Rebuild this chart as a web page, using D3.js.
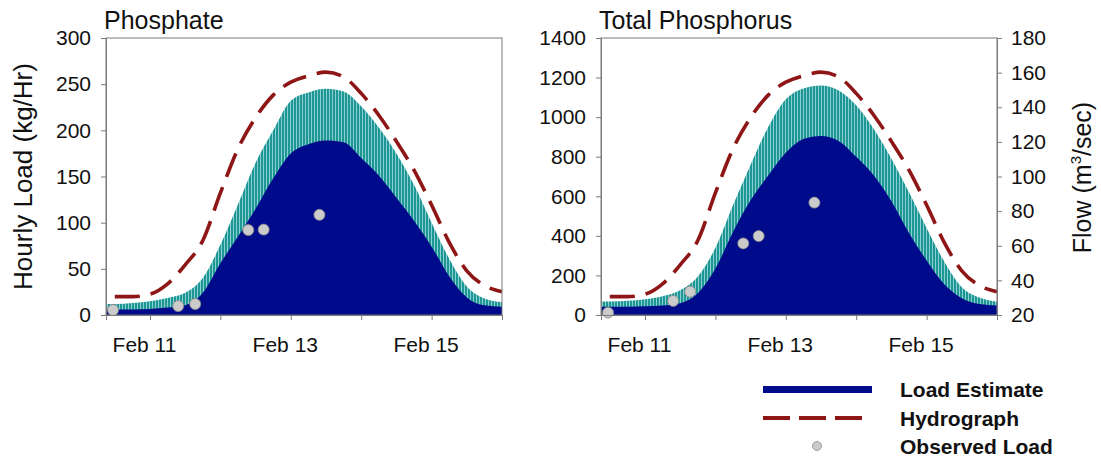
<!DOCTYPE html>
<html>
<head>
<meta charset="utf-8">
<script src="https://cdn.jsdelivr.net/npm/d3@7"></script>
<style>
  body { margin: 0; background: #fff; }
  svg { display: block; font-family: "Liberation Sans", Arial, sans-serif; }
</style>
</head>
<body>
<svg id="chart" width="1101" height="457"></svg>
<script>
// Sample times (every 6 hours across the storm event)
const times = [
  "Feb 10 09:00", "Feb 10 12:00", "Feb 10 18:00",
  "Feb 11 00:00", "Feb 11 06:00", "Feb 11 12:00", "Feb 11 18:00",
  "Feb 12 00:00", "Feb 12 06:00", "Feb 12 12:00", "Feb 12 18:00",
  "Feb 13 00:00", "Feb 13 06:00", "Feb 13 12:00", "Feb 13 18:00",
  "Feb 14 00:00", "Feb 14 06:00", "Feb 14 12:00", "Feb 14 18:00",
  "Feb 15 00:00", "Feb 15 06:00", "Feb 15 12:00", "Feb 15 18:00",
  "Feb 16 00:00"
];

// Phosphate hourly load (kg/Hr): estimate and its upper band
const phosphateEstimate = [6, 6, 6, 6.5, 8, 10.5, 24, 56, 85, 115, 148, 175, 185, 189, 187, 170, 151, 127, 102, 74, 42, 19, 10.5, 9];
const phosphateUpper    = [12, 12, 13, 15, 18.5, 24, 40, 76, 120, 165, 200, 232, 241, 245, 242, 226, 203, 175, 141, 100, 61, 31, 18, 14];

// Total phosphorus hourly load (kg/Hr): estimate and its upper band
const tpEstimate = [42, 42, 42, 44, 48, 60, 110, 235, 420, 580, 705, 820, 890, 905, 880, 800, 705, 575, 415, 275, 155, 85, 55, 48];
const tpUpper    = [67, 68, 72, 80, 95, 125, 194, 340, 555, 760, 950, 1090, 1145, 1160, 1135, 1060, 940, 790, 620, 440, 270, 140, 88, 67];

// Hydrograph flow (m3/sec)
const flow = [null, 30.6, 30.6, 32, 38, 49, 63, 90.5, 116, 134, 147, 154.5, 158.2, 160.3, 157.5, 148, 135.4, 120.3, 103.7, 83.5, 62, 45.5, 37, 33.5];

// Observed loads from grab samples
const obsTimes = ["Feb 10 11:24", "Feb 11 09:36", "Feb 11 15:24", "Feb 12 09:30", "Feb 12 14:45", "Feb 13 09:45"];
const phosphateObserved = [5.4, 9.7, 11.9, 92, 92.5, 108.5];
const tpObserved = [12, 71, 118, 362, 399, 568];

// Axis ticks and labels
const phosphateTicks = [0, 50, 100, 150, 200, 250, 300];
const tpTicks = [0, 200, 400, 600, 800, 1000, 1200, 1400];
const flowTicks = [20, 40, 60, 80, 100, 120, 140, 160, 180];
const dayTicks = ["Feb 11 00:00", "Feb 12 00:00", "Feb 13 00:00", "Feb 14 00:00", "Feb 15 00:00", "Feb 16 00:00"];
const dayLabels = ["Feb 11", "Feb 13", "Feb 15"];
const timeDomain = ["Feb 10 09:00", "Feb 16 00:00"];

const parse = d3.timeParse("%b %d %H:%M");
const fmtDay = d3.timeFormat("%b %-d");

const NAVY = "#000b8c";
const TEAL = "#1f9696";
const STRIPE = "#a6dede";
const RED = "#8e1616";
const AXIS = "#7a7a7a";
const INK = "#111";

const svg = d3.select("#chart");
const defs = svg.append("defs");

// vertical hourly bars for the upper band
const pat = defs.append("pattern")
  .attr("id", "bars").attr("patternUnits", "userSpaceOnUse")
  .attr("width", 3).attr("height", 10);
pat.append("rect").attr("width", 3).attr("height", 10).attr("fill", TEAL);
pat.append("rect").attr("x", 2.2).attr("width", 0.8).attr("height", 10).attr("fill", STRIPE);

function styleAxis(sel) {
  sel.select(".domain").attr("stroke", AXIS);
  sel.selectAll(".tick line").attr("stroke", AXIS);
  sel.selectAll("text").attr("font-size", 21).attr("fill", INK).attr("font-family", null);
}

function panel(opts) {
  const { id, left, right, top, bottom, est, upper, obs, loadTicks, loadMax, title, showFlowAxis, showLoadTitle } = opts;
  const x = d3.scaleTime().domain(timeDomain.map(parse)).range([left, right]);
  const y = d3.scaleLinear().domain([0, loadMax]).range([bottom, top]);
  const yFlow = d3.scaleLinear().domain([20, 180]).range([bottom, top]);

  const g = svg.append("g");
  defs.append("clipPath").attr("id", "clip" + id)
    .append("rect").attr("x", left).attr("y", top).attr("width", right - left).attr("height", bottom - top);

  const data = times.map((t, i) => ({ t: parse(t), est: est[i], up: upper[i], flow: flow[i] }));
  const plot = g.append("g").attr("clip-path", `url(#clip${id})`);

  plot.append("path").datum(data)
    .attr("fill", "url(#bars)")
    .attr("d", d3.area().curve(d3.curveMonotoneX).x(d => x(d.t)).y0(bottom).y1(d => y(d.up)));

  plot.append("path").datum(data)
    .attr("fill", NAVY)
    .attr("d", d3.area().curve(d3.curveMonotoneX).x(d => x(d.t)).y0(bottom).y1(d => y(d.est)));

  plot.append("path").datum(data)
    .attr("fill", "none").attr("stroke", RED).attr("stroke-width", 3.6)
    .attr("stroke-dasharray", "25,11")
    .attr("d", d3.line().curve(d3.curveMonotoneX).defined(d => d.flow != null)
      .x(d => x(d.t)).y(d => yFlow(d.flow)));

  // frame
  g.append("rect").attr("x", left).attr("y", top).attr("width", right - left).attr("height", bottom - top)
    .attr("fill", "none").attr("stroke", AXIS).attr("stroke-width", 1);

  // observed loads
  g.selectAll("circle.obs").data(obsTimes.map((t, i) => ({ t: parse(t), v: obs[i] })))
    .join("circle").attr("class", "obs")
    .attr("cx", d => x(d.t)).attr("cy", d => y(d.v)).attr("r", 5.5)
    .attr("fill", "#cbcbcb").attr("stroke", "#8a8a8a").attr("stroke-width", 0.8);

  // left load axis
  g.append("g").attr("transform", `translate(${left},0)`)
    .call(d3.axisLeft(y).tickValues(loadTicks).tickFormat(d3.format("d")).tickSize(5).tickPadding(10))
    .call(styleAxis);

  // time axis
  const labelled = new Set(dayLabels);
  g.append("g").attr("transform", `translate(0,${bottom})`)
    .call(d3.axisBottom(x).tickValues(dayTicks.map(parse)).tickSize(5).tickPadding(17)
      .tickFormat(d => labelled.has(fmtDay(d)) ? fmtDay(d) : ""))
    .call(styleAxis)
    .selectAll("text").attr("dx", -6);

  if (showFlowAxis) {
    g.append("g").attr("transform", `translate(${right},0)`)
      .call(d3.axisRight(yFlow).tickValues(flowTicks).tickSize(5).tickPadding(9))
      .call(styleAxis);

    const ft = g.append("text")
      .attr("transform", `translate(${right + 94},${(top + bottom) / 2 + 1}) rotate(-90)`)
      .attr("text-anchor", "middle").attr("font-size", 25).attr("fill", INK);
    ft.append("tspan").text("Flow (m");
    ft.append("tspan").attr("font-size", 15).attr("dy", -10).text("3");
    ft.append("tspan").attr("dy", 10).text("/sec)");
  }

  if (showLoadTitle) {
    g.append("text")
      .attr("transform", `translate(32,${(top + bottom) / 2}) rotate(-90)`)
      .attr("text-anchor", "middle").attr("font-size", 26).attr("fill", INK)
      .text("Hourly Load (kg/Hr)");
  }

  g.append("text").attr("x", left - 2).attr("y", 29)
    .attr("font-size", 25).attr("fill", INK).text(title);
}

panel({ id: "p", left: 106, right: 502, top: 38, bottom: 315,
  est: phosphateEstimate, upper: phosphateUpper, obs: phosphateObserved,
  loadTicks: phosphateTicks, loadMax: 300, title: "Phosphate",
  showFlowAxis: false, showLoadTitle: true });

panel({ id: "tp", left: 601, right: 997, top: 38, bottom: 315,
  est: tpEstimate, upper: tpUpper, obs: tpObserved,
  loadTicks: tpTicks, loadMax: 1400, title: "Total Phosphorus",
  showFlowAxis: true, showLoadTitle: false });

// legend
const legend = svg.append("g");
const legendItems = ["Load Estimate", "Hydrograph", "Observed Load"];
const ly = [389.5, 418, 446];
legend.append("line").attr("x1", 763).attr("x2", 872).attr("y1", ly[0]).attr("y2", ly[0])
  .attr("stroke", NAVY).attr("stroke-width", 7);
legend.append("line").attr("x1", 763).attr("x2", 871).attr("y1", ly[1]).attr("y2", ly[1])
  .attr("stroke", RED).attr("stroke-width", 4).attr("stroke-dasharray", "27,9");
legend.append("circle").attr("cx", 817).attr("cy", ly[2]).attr("r", 4.5)
  .attr("fill", "#cbcbcb").attr("stroke", "#8a8a8a").attr("stroke-width", 0.8);
legend.selectAll("text.lg").data(legendItems).join("text").attr("class", "lg")
  .attr("x", 900).attr("y", (d, i) => ly[i] + 7.5)
  .attr("font-size", 21).attr("font-weight", "bold").attr("fill", INK)
  .text(d => d);
</script>
</body>
</html>
